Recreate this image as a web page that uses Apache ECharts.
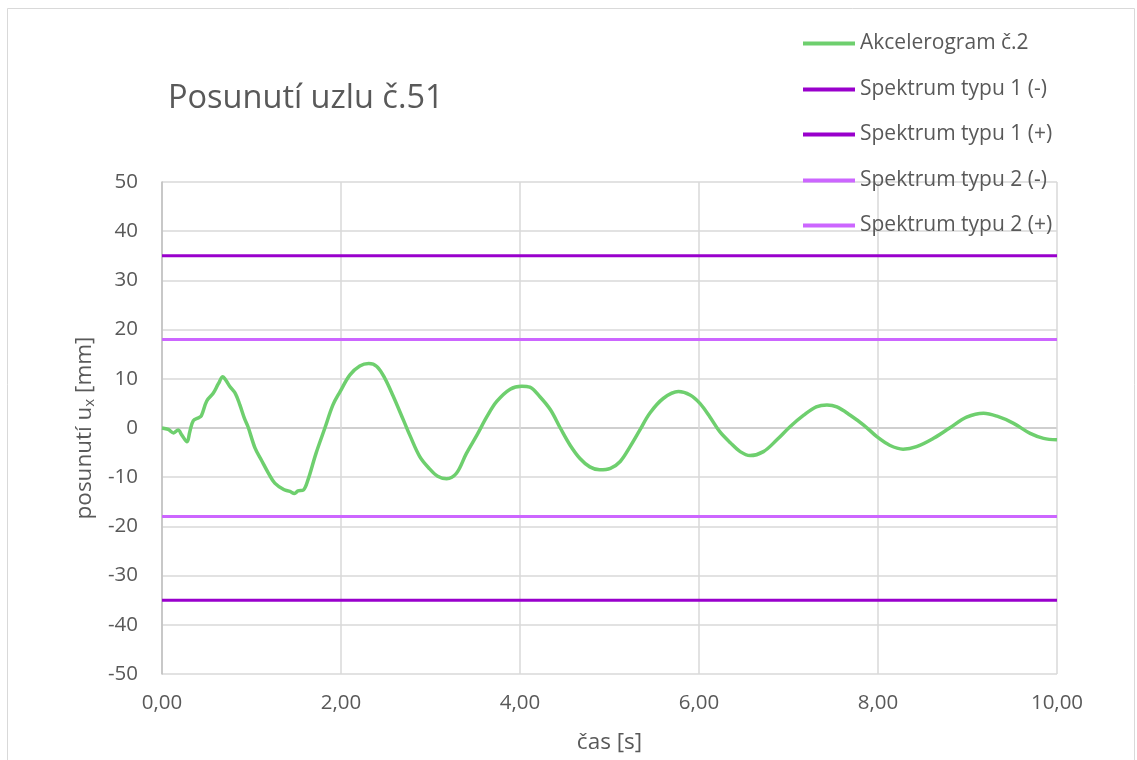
<!DOCTYPE html>
<html>
<head>
<meta charset="utf-8">
<script src="https://cdn.jsdelivr.net/npm/echarts@6/dist/echarts.min.js"></script>
<style>
  html, body { margin: 0; padding: 0; background: #ffffff; }
  #chart { width: 1137px; height: 760px; }
</style>
</head>
<body>
<div id="chart"></div>
<script>
// Time axis samples [s]
const timeS = [0, 0.07, 0.13, 0.18, 0.22, 0.28, 0.31, 0.35, 0.41, 0.44, 0.50, 0.57, 0.63, 0.68, 0.71, 0.76, 0.82, 0.87, 0.92, 0.96,
  1.04, 1.11, 1.19, 1.26, 1.36, 1.43, 1.48, 1.52, 1.58, 1.63, 1.72, 1.82, 1.91, 1.99, 2.10, 2.21, 2.31, 2.40, 2.49, 2.58,
  2.70, 2.77, 2.88, 2.99, 3.08, 3.18, 3.29, 3.40, 3.52, 3.63, 3.74, 3.89, 4.02, 4.11, 4.22, 4.34, 4.45, 4.56, 4.67, 4.78,
  4.89, 5.01, 5.12, 5.23, 5.34, 5.45, 5.60, 5.77, 5.90, 6.01, 6.12, 6.23, 6.35, 6.46, 6.57, 6.72, 6.87, 7.02, 7.17, 7.31,
  7.43, 7.54, 7.69, 7.84, 7.99, 8.13, 8.28, 8.43, 8.62, 8.80, 8.99, 9.18, 9.33, 9.51, 9.70, 9.85, 10.0];

// Displacement u_x of node 51 [mm], accelerogram no. 2
const displacementMm = [0, -0.3, -1.0, -0.4, -1.4, -2.8, -0.8, 1.5, 2.1, 2.5, 5.5, 7.0, 9.0, 10.4, 9.8, 8.4, 7.0, 4.7, 2.0, 0.3,
  -4.1, -6.5, -9.2, -11.2, -12.5, -12.9, -13.3, -12.8, -12.6, -10.6, -5.2, 0, 4.7, 7.4, 10.8, 12.6, 13.1, 12.5, 10.1, 6.6,
  1.5, -1.5, -5.8, -8.3, -9.8, -10.3, -9.2, -5.2, -1.4, 2.3, 5.4, 7.9, 8.5, 8.3, 6.4, 3.7, 0, -3.5, -6.2, -7.9,
  -8.5, -8.2, -6.8, -3.8, -0.4, 3.0, 6.0, 7.4, 6.7, 5.0, 2.3, -0.7, -3.0, -4.8, -5.6, -4.8, -2.4, 0.3, 2.6, 4.3,
  4.7, 4.3, 2.6, 0.6, -1.8, -3.5, -4.3, -3.8, -2.1, 0, 2.2, 3.0, 2.4, 1.0, -1.1, -2.1, -2.4];

// Response-spectrum limits [mm]
const spectrumType1 = 35;
const spectrumType2 = 18;
const timeRange = [0, 10];

const seriesNames = ['Akcelerogram č.2', 'Spektrum typu 1 (-)', 'Spektrum typu 1 (+)', 'Spektrum typu 2 (-)', 'Spektrum typu 2 (+)'];

const FONT = '"Open Sans", "DejaVu Sans", sans-serif';
const TEXT = '#595959';
const GREEN = '#6ECF6E';
const DARK_PURPLE = '#9900CC';
const LIGHT_PURPLE = '#CC66FF';

const curve = timeS.map((t, i) => [t, displacementMm[i]]);
const limitLine = v => timeRange.map(t => [t, v]);

// one legend block per entry, stacked on the right above the plot
const legendTops = [33, 79, 124, 170, 215];
const legends = seriesNames.map((name, i) => ({
  data: [name],
  left: 803,
  top: legendTops[i],
  orient: 'vertical',
  icon: 'rect',
  itemWidth: 52,
  itemHeight: 4,
  itemGap: 0,
  padding: 0,
  selectedMode: false,
  textStyle: { color: TEXT, fontSize: 21, fontFamily: FONT, padding: [0, 0, 0, 0] }
}));

const chart = echarts.init(document.getElementById('chart'), null, { renderer: 'canvas' });

// zero line a shade darker than the other gridlines
const ySplitColors = [];
for (let v = -50; v <= 50; v += 10) ySplitColors.push(v === 0 ? '#BFBFBF' : '#D9D9D9');

chart.setOption({
  animation: false,
  backgroundColor: '#ffffff',
  graphic: [{
    type: 'rect',
    shape: { x: 7.5, y: 8.5, width: 1127, height: 800 },
    style: { fill: 'none', stroke: '#D9D9D9', lineWidth: 1 },
    silent: true,
    z: -1
  }, {
    type: 'text',
    left: 168,
    top: 82,
    style: { text: 'Posunutí uzlu č.51', fill: TEXT, font: '32.5px ' + FONT }
  }],
  legend: legends,
  grid: { left: 162, top: 182, right: 80, bottom: 86, containLabel: false },
  xAxis: {
    type: 'value',
    min: timeRange[0],
    max: timeRange[1],
    interval: 2,
    name: 'čas [s]',
    nameLocation: 'middle',
    nameGap: 57,
    nameTextStyle: { color: TEXT, fontSize: 22.5, fontFamily: FONT },
    axisLine: { show: false },
    axisTick: { show: false },
    axisLabel: {
      color: TEXT, fontSize: 20.5, fontFamily: FONT, margin: 19,
      formatter: v => v.toFixed(2).replace('.', ',')
    },
    splitLine: { show: true, lineStyle: { color: '#D9D9D9', width: 1.5 } }
  },
  yAxis: {
    type: 'value',
    min: -50,
    max: 50,
    interval: 10,
    name: '{n|posunutí u}{s|x}{n| [mm]}',
    nameLocation: 'middle',
    nameGap: 62,
    nameRotate: 90,
    nameTextStyle: {
      color: TEXT, fontFamily: FONT,
      rich: {
        n: { fontSize: 22.5, color: TEXT, fontFamily: FONT },
        s: { fontSize: 15, color: TEXT, fontFamily: FONT, verticalAlign: 'bottom', padding: [10, 0, 0, 0] }
      }
    },
    axisLine: { show: true, onZero: false, lineStyle: { color: '#BFBFBF', width: 1.5 } },
    axisTick: { show: false },
    axisLabel: { color: TEXT, fontSize: 20.5, fontFamily: FONT, margin: 24 },
    splitLine: { show: true, lineStyle: { color: ySplitColors, width: 1.5 } }
  },
  series: [{
    name: seriesNames[0],
    type: 'line',
    data: curve,
    showSymbol: false,
    symbol: 'none',
    smooth: 0.35,
    lineStyle: { color: GREEN, width: 3.5 },
    itemStyle: { color: GREEN },
    z: 5
  }, {
    name: seriesNames[1],
    type: 'line',
    data: limitLine(-spectrumType1),
    symbol: 'none',
    lineStyle: { color: DARK_PURPLE, width: 3 },
    itemStyle: { color: DARK_PURPLE }
  }, {
    name: seriesNames[2],
    type: 'line',
    data: limitLine(spectrumType1),
    symbol: 'none',
    lineStyle: { color: DARK_PURPLE, width: 3 },
    itemStyle: { color: DARK_PURPLE }
  }, {
    name: seriesNames[3],
    type: 'line',
    data: limitLine(-spectrumType2),
    symbol: 'none',
    lineStyle: { color: LIGHT_PURPLE, width: 3 },
    itemStyle: { color: LIGHT_PURPLE }
  }, {
    name: seriesNames[4],
    type: 'line',
    data: limitLine(spectrumType2),
    symbol: 'none',
    lineStyle: { color: LIGHT_PURPLE, width: 3 },
    itemStyle: { color: LIGHT_PURPLE }
  }]
});
</script>
</body>
</html>
